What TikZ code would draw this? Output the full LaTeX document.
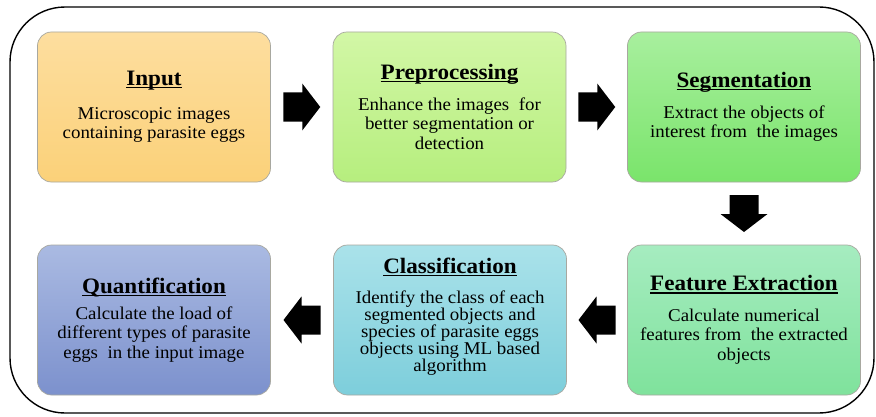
\documentclass[tikz,border=0pt]{standalone}
\usepackage{fontspec}
\setmainfont{Liberation Serif}[FakeStretch=1.05]
\usetikzlibrary{calc}
\definecolor{inT}{HTML}{FDDE9F}
\definecolor{inB}{HTML}{FBD179}
\definecolor{prT}{HTML}{D2F7A6}
\definecolor{prB}{HTML}{B6EE7E}
\definecolor{sgT}{HTML}{A8EF9E}
\definecolor{sgB}{HTML}{7AE46B}
\definecolor{feT}{HTML}{A6ECC0}
\definecolor{feB}{HTML}{7FE29C}
\definecolor{clT}{HTML}{AAE2EA}
\definecolor{clB}{HTML}{7DCEDB}
\definecolor{quT}{HTML}{AABAE2}
\definecolor{quB}{HTML}{7C91CD}
\definecolor{edge}{HTML}{A8A8A0}
\newcommand{\ttl}[1]{{\fontsize{22}{24}\selectfont\bfseries\leavevmode\setbox0\hbox{#1}\rlap{\rule[-2.6pt]{\wd0}{1.3pt}}\box0}}
\newcommand{\blockarr}[2]{\fill[black,shift={(#1)},rotate=#2] (-18.5,-14.5) -- (0.5,-14.5) -- (0.5,-23.5) -- (18.5,0) -- (0.5,23.5) -- (0.5,14.5) -- (-18.5,14.5) -- cycle;}
\tikzset{
  stage/.style={draw=edge, line width=0.7pt, rounded corners=14pt, minimum width=233pt, minimum height=150pt, inner sep=0pt, align=center, font=\fontsize{18}{19.5}\selectfont},
}
\begin{document}
\begin{tikzpicture}[x=1pt,y=1pt]
\useasboundingbox (0,0) rectangle (876,416);
\fill[white] (0,0) rectangle (876,416);
\draw[line width=1.4pt, rounded corners=55pt] (10,3) rectangle (874,409);

\node[stage, top color=inT, bottom color=inB] (in) at (154,309) {\ttl{Input}\\[14pt]Microscopic images\\containing parasite eggs};
\node[stage, top color=prT, bottom color=prB] (pr) at (449.5,309) {\ttl{Preprocessing}\\[11pt]Enhance the images\ \ for\\better segmentation or\\detection};
\node[stage, top color=sgT, bottom color=sgB] (sg) at (744,309) {\ttl{Segmentation}\\[11pt]Extract the objects of\\interest from\ \ the images};
\node[stage, top color=feT, bottom color=feB] (fe) at (744,96) {\ttl{Feature Extraction}\\[11pt]Calculate numerical\\features from\ \ the extracted\\objects};
\node[stage, top color=clT, bottom color=clB, font=\fontsize{18}{17}\selectfont] (cl) at (450,96) {\ttl{Classification}\\[13pt]Identify the class of each\\segmented objects and\\species of parasite eggs\\objects using ML based\\algorithm\rule[-10pt]{0pt}{0pt}};
\node[stage, top color=quT, bottom color=quB] (qu) at (154,96) {\ttl{Quantification}\\[6pt]Calculate the load of\\different types of parasite\\eggs\ \ in the input image};

\coordinate (a1) at ($(in.east)!0.5!(pr.west)$);
\coordinate (a2) at ($(pr.east)!0.5!(sg.west)$);
\coordinate (a3) at ($(sg.south)!0.5!(fe.north)$);
\coordinate (a4) at ($(fe.west)!0.5!(cl.east)$);
\coordinate (a5) at ($(cl.west)!0.5!(qu.east)$);
\blockarr{a1}{0}
\blockarr{a2}{0}
\blockarr{a3}{-90}
\blockarr{a4}{180}
\blockarr{a5}{180}
\end{tikzpicture}
\end{document}
